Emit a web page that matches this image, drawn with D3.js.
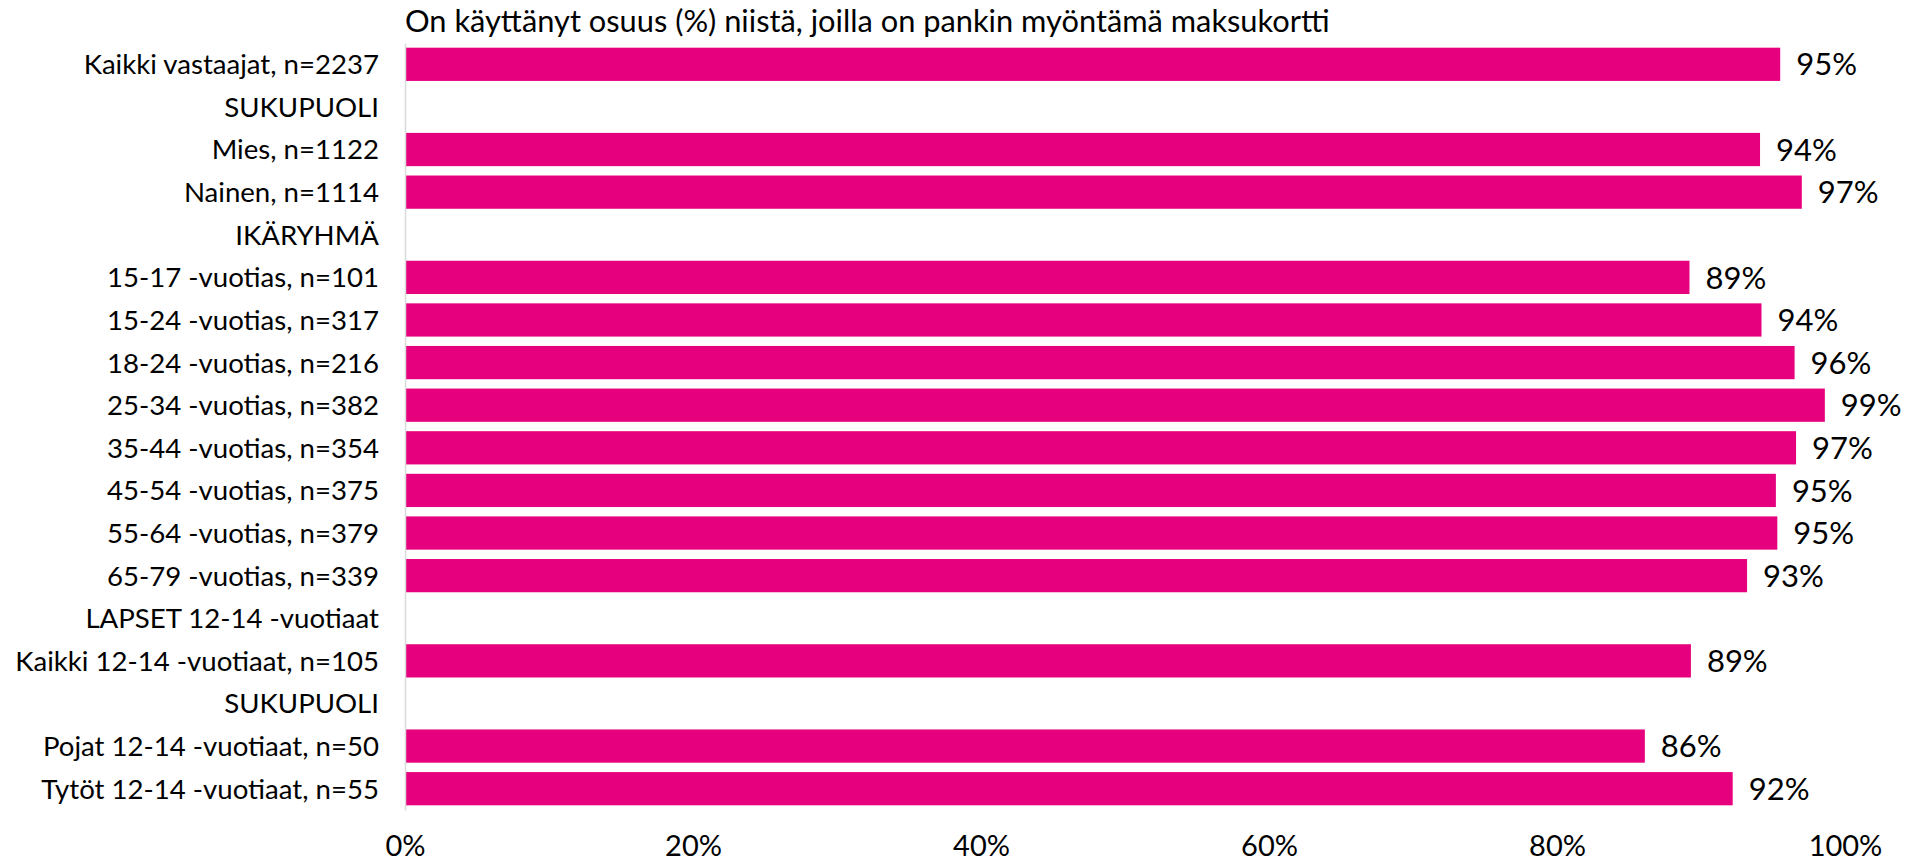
<!DOCTYPE html>
<html lang="fi">
<head>
    <meta charset="UTF-8">
    <title>Maksukortin käyttö</title>
    <script src="https://d3js.org/d3.v7.min.js"></script>
    <style>
        body { margin: 0; background: #ffffff; }
        svg text { font-family: Lato, "Open Sans", sans-serif; fill: #000000; }
    </style>
</head>
<body>
    <svg id="chart" width="1926" height="861"></svg>
    <script>
        // row labels, top to bottom (headers have no value)
        const categories = [
            "Kaikki vastaajat, n=2237",
            "SUKUPUOLI",
            "Mies, n=1122",
            "Nainen, n=1114",
            "IKÄRYHMÄ",
            "15-17 -vuotias, n=101",
            "15-24 -vuotias, n=317",
            "18-24 -vuotias, n=216",
            "25-34 -vuotias, n=382",
            "35-44 -vuotias, n=354",
            "45-54 -vuotias, n=375",
            "55-64 -vuotias, n=379",
            "65-79 -vuotias, n=339",
            "LAPSET 12-14 -vuotiaat",
            "Kaikki 12-14 -vuotiaat, n=105",
            "SUKUPUOLI",
            "Pojat 12-14 -vuotiaat, n=50",
            "Tytöt 12-14 -vuotiaat, n=55"
        ];
        // share in percent, null = header row
        const values = [95.5, null, 94.1, 97.0, null, 89.2, 94.2, 96.5, 98.6, 96.6, 95.2, 95.3, 93.2, null, 89.3, null, 86.1, 92.2];
        // printed labels
        const valueLabels = ["95%", "", "94%", "97%", "", "89%", "94%", "96%", "99%", "97%", "95%", "95%", "93%", "", "89%", "", "86%", "92%"];
        const xTicks = [0, 20, 40, 60, 80, 100];
        const title = "On käyttänyt osuus (%) niistä, joilla on pankin myöntämä maksukortti";

        const svg = d3.select("#chart");
        const rows = categories.map((c, i) => ({ id: i, name: c, value: values[i], label: valueLabels[i] }));

        const x = d3.scaleLinear().domain([0, 100]).range([405, 1845]);
        const y = d3.scaleBand()
            .domain(rows.map(d => d.id))
            .range([43, 810])
            .paddingInner(0.22)
            .paddingOuter(0.11);

        // title
        svg.append("text")
            .attr("x", 405)
            .attr("y", 32)
            .style("font-size", "30.8px")
            .text(title);

        // bars
        svg.append("g").selectAll("rect")
            .data(rows.filter(d => d.value !== null))
            .join("rect")
            .attr("x", x(0))
            .attr("y", d => y(d.id))
            .attr("width", d => x(d.value) - x(0))
            .attr("height", y.bandwidth())
            .attr("fill", "#E6007E");

        // value labels
        svg.append("g").selectAll("text")
            .data(rows.filter(d => d.value !== null))
            .join("text")
            .attr("x", d => x(d.value) + 16)
            .attr("y", d => y(d.id) + y.bandwidth() / 2)
            .attr("dy", "0.36em")
            .style("font-size", "31px")
            .text(d => d.label);

        // category axis on the left
        const yAxis = d3.axisLeft(y)
            .tickSize(0)
            .tickPadding(26)
            .tickFormat(i => categories[i]);
        const gy = svg.append("g")
            .attr("transform", `translate(${x(0)},0)`)
            .call(yAxis);
        gy.select(".domain").attr("stroke", "#d9d9d9").attr("stroke-width", 1.5);
        gy.selectAll("text")
            .style("font-size", "27.6px")
            .attr("dy", "0.36em");

        // percent axis, no line
        const xAxis = d3.axisBottom(x)
            .tickValues(xTicks)
            .tickSize(0)
            .tickPadding(0)
            .tickFormat(d => d + "%");
        const gx = svg.append("g")
            .attr("transform", "translate(0,856)")
            .call(xAxis);
        gx.select(".domain").remove();
        gx.selectAll("text")
            .attr("dy", null)
            .attr("y", 0)
            .style("font-size", "29px");
    </script>
</body>
</html>
